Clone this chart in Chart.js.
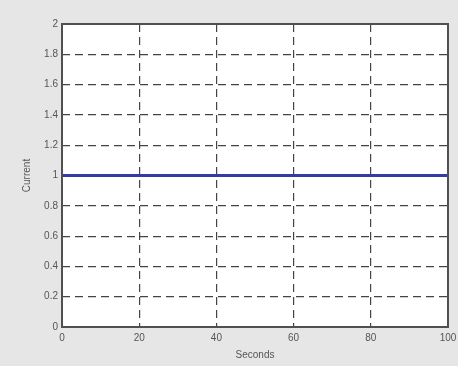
<!DOCTYPE html>
<html>
<head>
<meta charset="utf-8">
<script src="https://cdn.jsdelivr.net/npm/chart.js@4/dist/chart.umd.min.js"></script>
<style>
  html, body { margin: 0; padding: 0; background: #e6e6e6; }
  #wrap { width: 458px; height: 366px; }
</style>
</head>
<body>
<div id="wrap"><canvas id="currentChart" width="458" height="366"></canvas></div>
<script>
// data
const seconds = [0, 20, 40, 60, 80, 100];
const current = [1, 1, 1, 1, 1, 1];
const xTicks = [0, 20, 40, 60, 80, 100];
const yTicks = [0, 0.2, 0.4, 0.6, 0.8, 1, 1.2, 1.4, 1.6, 1.8, 2];

// white plot area + full box frame, MATLAB style
const boxPlugin = {
    id: 'box',
    beforeDraw(chart) {
        const { ctx, chartArea: a } = chart;
        ctx.save();
        ctx.fillStyle = '#e6e6e6';
        ctx.fillRect(0, 0, chart.width, chart.height);
        ctx.fillStyle = '#ffffff';
        ctx.fillRect(a.left, a.top, a.right - a.left, a.bottom - a.top);
        ctx.restore();
    },
    afterDraw(chart) {
        const { ctx, chartArea: a } = chart;
        ctx.save();
        ctx.strokeStyle = '#505050';
        ctx.lineWidth = 2;
        ctx.strokeRect(a.left, a.top, a.right - a.left, a.bottom - a.top);
        ctx.restore();
    }
};

const tickFont = { family: 'Arial, "Liberation Sans", sans-serif', size: 10 };

new Chart(document.getElementById('currentChart').getContext('2d'), {
    type: 'line',
    data: {
        datasets: [{
            label: 'Current',
            data: seconds.map((s, i) => ({ x: s, y: current[i] })),
            borderColor: '#3838a8',
            borderWidth: 3,
            pointRadius: 0,
            fill: false,
            tension: 0,
        }],
    },
    options: {
        responsive: false,
        animation: false,
        layout: { padding: { top: 24, right: 10, left: 21, bottom: 5 } },
        plugins: {
            legend: { display: false },
            tooltip: { enabled: false },
        },
        scales: {
            x: {
                type: 'linear',
                min: 0,
                max: 100,
                afterBuildTicks: s => { s.ticks = xTicks.map(v => ({ value: v })); },
                afterFit: s => { s.height = 34; s.paddingRight = 0; s.paddingLeft = 0; },
                grid: {
                    color: '#444444',
                    lineWidth: 1.2,
                    drawTicks: false,
                },
                border: { display: false, dash: [8, 5] },
                ticks: { color: '#555555', font: tickFont, padding: 5, maxRotation: 0 },
                title: {
                    display: true,
                    text: 'Seconds',
                    color: '#555555',
                    font: tickFont,
                    padding: { top: 0, bottom: 0 },
                },
            },
            y: {
                min: 0,
                max: 2,
                afterBuildTicks: s => { s.ticks = yTicks.map(v => ({ value: v })); },
                afterFit: s => { s.width = 41; },
                grid: {
                    color: '#444444',
                    lineWidth: 1.2,
                    drawTicks: false,
                },
                border: { display: false, dash: [8, 5] },
                ticks: {
                    color: '#555555',
                    font: tickFont,
                    padding: 4,
                    callback: v => String(Math.round(v * 10) / 10),
                },
                title: {
                    display: true,
                    text: 'Current',
                    color: '#555555',
                    font: tickFont,
                    padding: { top: 0, bottom: 0 },
                },
            },
        },
    },
    plugins: [boxPlugin],
});
</script>
</body>
</html>
